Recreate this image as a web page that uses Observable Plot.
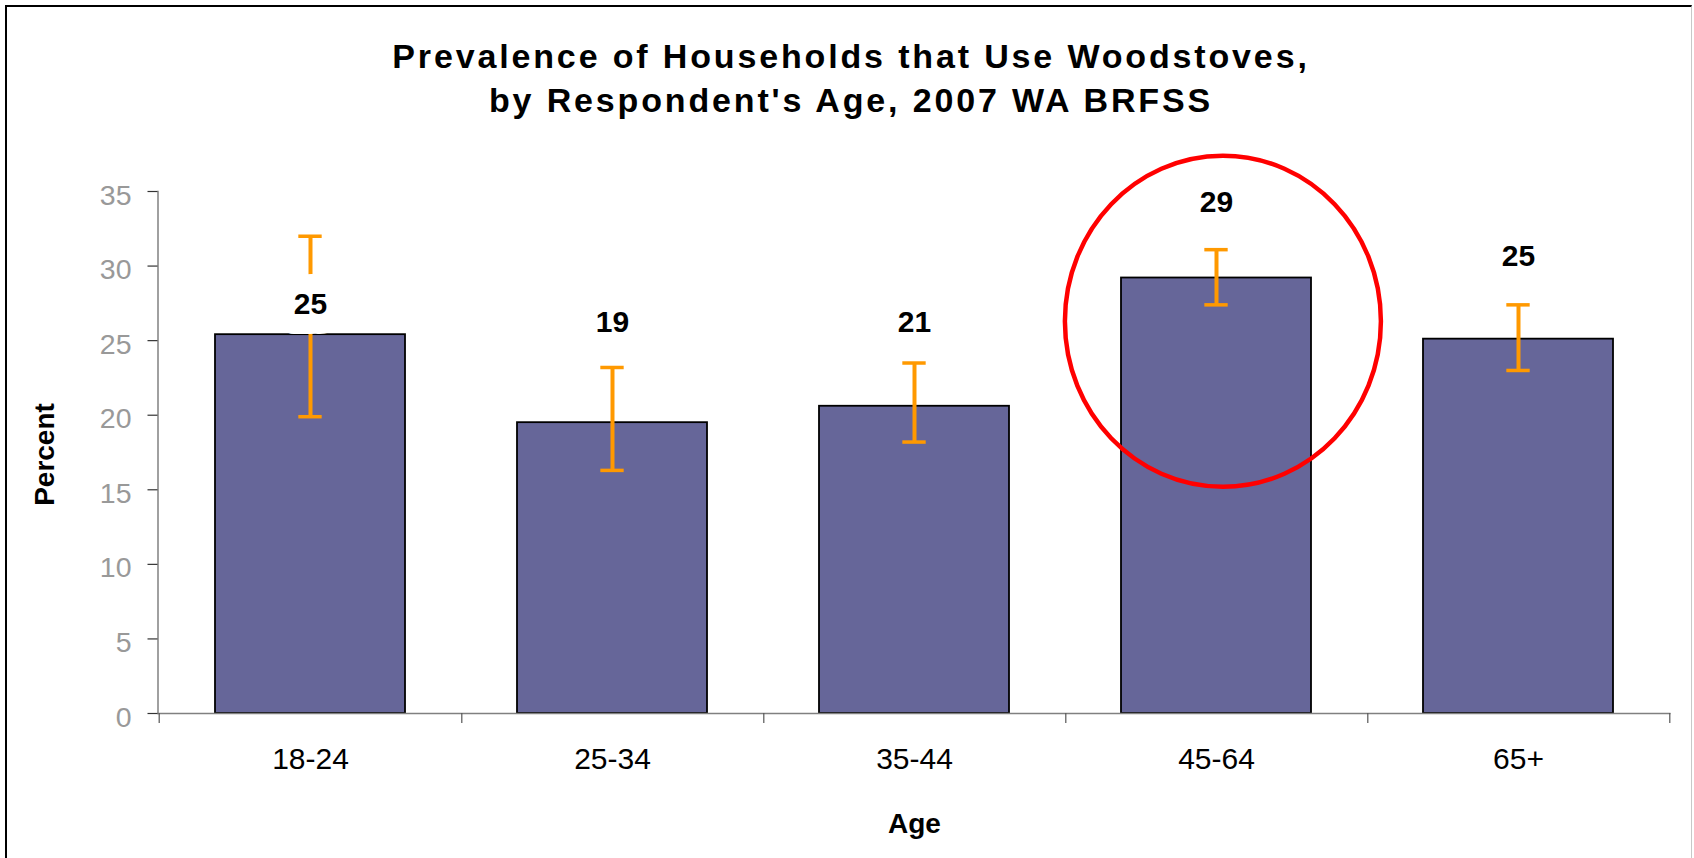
<!DOCTYPE html>
<html>
<head>
<meta charset="utf-8">
<script src="https://cdn.jsdelivr.net/npm/d3@7"></script>
<script src="https://cdn.jsdelivr.net/npm/@observablehq/plot@0.6"></script>
<style>
html, body { margin: 0; padding: 0; background: #fff; }
#wrap { position: relative; width: 1694px; height: 858px; overflow: hidden; font-family: "Liberation Sans", Arial, sans-serif; }
#border { position: absolute; left: 5px; top: 5px; width: 1687px; height: 900px; border-left: 2px solid #000; border-top: 2px solid #000; border-right: 1px solid #c8c8c8; box-sizing: border-box; }
#title { position: absolute; left: 4px; top: 34px; width: 1694px; text-align: center; font-weight: bold; font-size: 34px; line-height: 44px; letter-spacing: 2.85px; color: #000; }
#chart { position: absolute; left: 0; top: 130px; }
</style>
</head>
<body>
<div id="wrap">
  <div id="border"></div>
  <div id="title">Prevalence of Households that Use Woodstoves,<br>by Respondent's Age, 2007 WA BRFSS</div>
  <div id="chart"></div>
</div>
<script>
// ---- data ----
const ages = ["18-24", "25-34", "35-44", "45-64", "65+"];
const percents = [25.4, 19.5, 20.6, 29.2, 25.1];
const lowerCI = [19.9, 16.3, 18.2, 27.4, 23.0];
const upperCI = [32.0, 23.2, 23.5, 31.1, 27.4];
const valueLabels = ["25", "19", "21", "29", "25"];
const labelPositions = [27.45, 26.25, 26.25, 34.3, 30.65];
const yTicks = [0, 5, 10, 15, 20, 25, 30, 35];
const highlightedAge = ["45-64"];
const highlightCenter = [26.3];

const rows = ages.map((age, i) => ({
  age, value: percents[i], lo: lowerCI[i], hi: upperCI[i],
  label: valueLabels[i], labelY: labelPositions[i]
}));
const highlight = highlightedAge.map((age, i) => ({age, y: highlightCenter[i]}));

// ---- layout ----
const W = 1694, H = 728;
const mL = 157.5, mR = 23.5, mT = 61, mB = 145;
const padInner = 0.37, padOuter = 0.185;
const step = (W - mL - mR) / (ages.length - padInner + 2 * padOuter);
const bandW = step * (1 - padInner);
const capW = 24;
const capInset = (bandW - capW) / 2;
const font = "'Liberation Sans', Arial, sans-serif";

// ellipse symbol for the highlight annotation
const ERX = 158, ERY = 165.5;
const ellipseSymbol = {
  draw(ctx) {
    const k = 0.5522847498;
    ctx.moveTo(ERX, 0);
    ctx.bezierCurveTo(ERX, ERY * k, ERX * k, ERY, 0, ERY);
    ctx.bezierCurveTo(-ERX * k, ERY, -ERX, ERY * k, -ERX, 0);
    ctx.bezierCurveTo(-ERX, -ERY * k, -ERX * k, -ERY, 0, -ERY);
    ctx.bezierCurveTo(ERX * k, -ERY, ERX, -ERY * k, ERX, 0);
    ctx.closePath();
  }
};

const chart = Plot.plot({
  width: W, height: H,
  marginLeft: mL, marginRight: mR, marginTop: mT, marginBottom: mB,
  style: {fontFamily: font, background: "transparent", overflow: "visible"},
  x: {type: "band", domain: ages, paddingInner: padInner, paddingOuter: padOuter, axis: null},
  y: {domain: [0, 35], axis: null},
  marks: [
    // bars
    Plot.barY(rows, {x: "age", y: "value", fill: "#666699", stroke: "#000", strokeWidth: 1.8}),
    // axis lines
    Plot.ruleY([0], {stroke: "#808080", strokeWidth: 1.5}),
    Plot.frame({anchor: "left", stroke: "#808080", strokeWidth: 1.5}),
    // y axis ticks and labels
    Plot.axisY({ticks: yTicks, tickSize: 10, tickFormat: () => "", stroke: "#333", strokeWidth: 1.2, label: null}),
    Plot.axisY({ticks: yTicks, tickSize: 0, tickPadding: 26.5, fontSize: 28.5, color: "#999999", dy: 4, label: null}),
    // x axis boundary ticks
    Plot.axisX({ticks: ages, tickSize: 10, tickFormat: () => "", stroke: "#555", strokeWidth: 1.2, dx: step / 2, label: null}),
    Plot.axisX({ticks: [ages[0]], tickSize: 10, tickFormat: () => "", stroke: "#555", strokeWidth: 1.2, dx: -step / 2, label: null}),
    // x axis labels
    Plot.axisX({ticks: ages, tickSize: 0, tickPadding: 34.3, fontSize: 30, color: "#000", label: null}),
    // error bars
    Plot.ruleX(rows, {x: "age", y1: "lo", y2: "hi", stroke: "#FF9900", strokeWidth: 4}),
    Plot.tickY(rows, {x: "age", y: "lo", stroke: "#FF9900", strokeWidth: 3.5, insetLeft: capInset, insetRight: capInset}),
    Plot.tickY(rows, {x: "age", y: "hi", stroke: "#FF9900", strokeWidth: 3.5, insetLeft: capInset, insetRight: capInset}),
    // value labels (white halo hides what lies beneath, like the boxed Excel label)
    Plot.text(rows, {x: "age", y: "labelY", text: "label", fontSize: 30, fontWeight: "bold", fill: "#000",
      stroke: "#fff", strokeWidth: 40, lineAnchor: "middle"}),
    // axis titles
    Plot.text(["Percent"], {frameAnchor: "left", text: d => d, rotate: -90, dx: -113.2, dy: 2,
      textAnchor: "middle", fontSize: 28, fontWeight: "bold", fill: "#000", lineAnchor: "middle"}),
    Plot.text(["Age"], {frameAnchor: "bottom", text: d => d, dy: 111,
      textAnchor: "middle", fontSize: 28, fontWeight: "bold", fill: "#000", lineAnchor: "middle"}),
    // highlight ellipse
    Plot.dot(highlight, {x: "age", y: "y", r: 160, symbol: ellipseSymbol, fill: "none",
      stroke: "#FF0000", strokeWidth: 4.5, dx: 6.4})
  ]
});
document.getElementById("chart").appendChild(chart);
</script>
</body>
</html>
